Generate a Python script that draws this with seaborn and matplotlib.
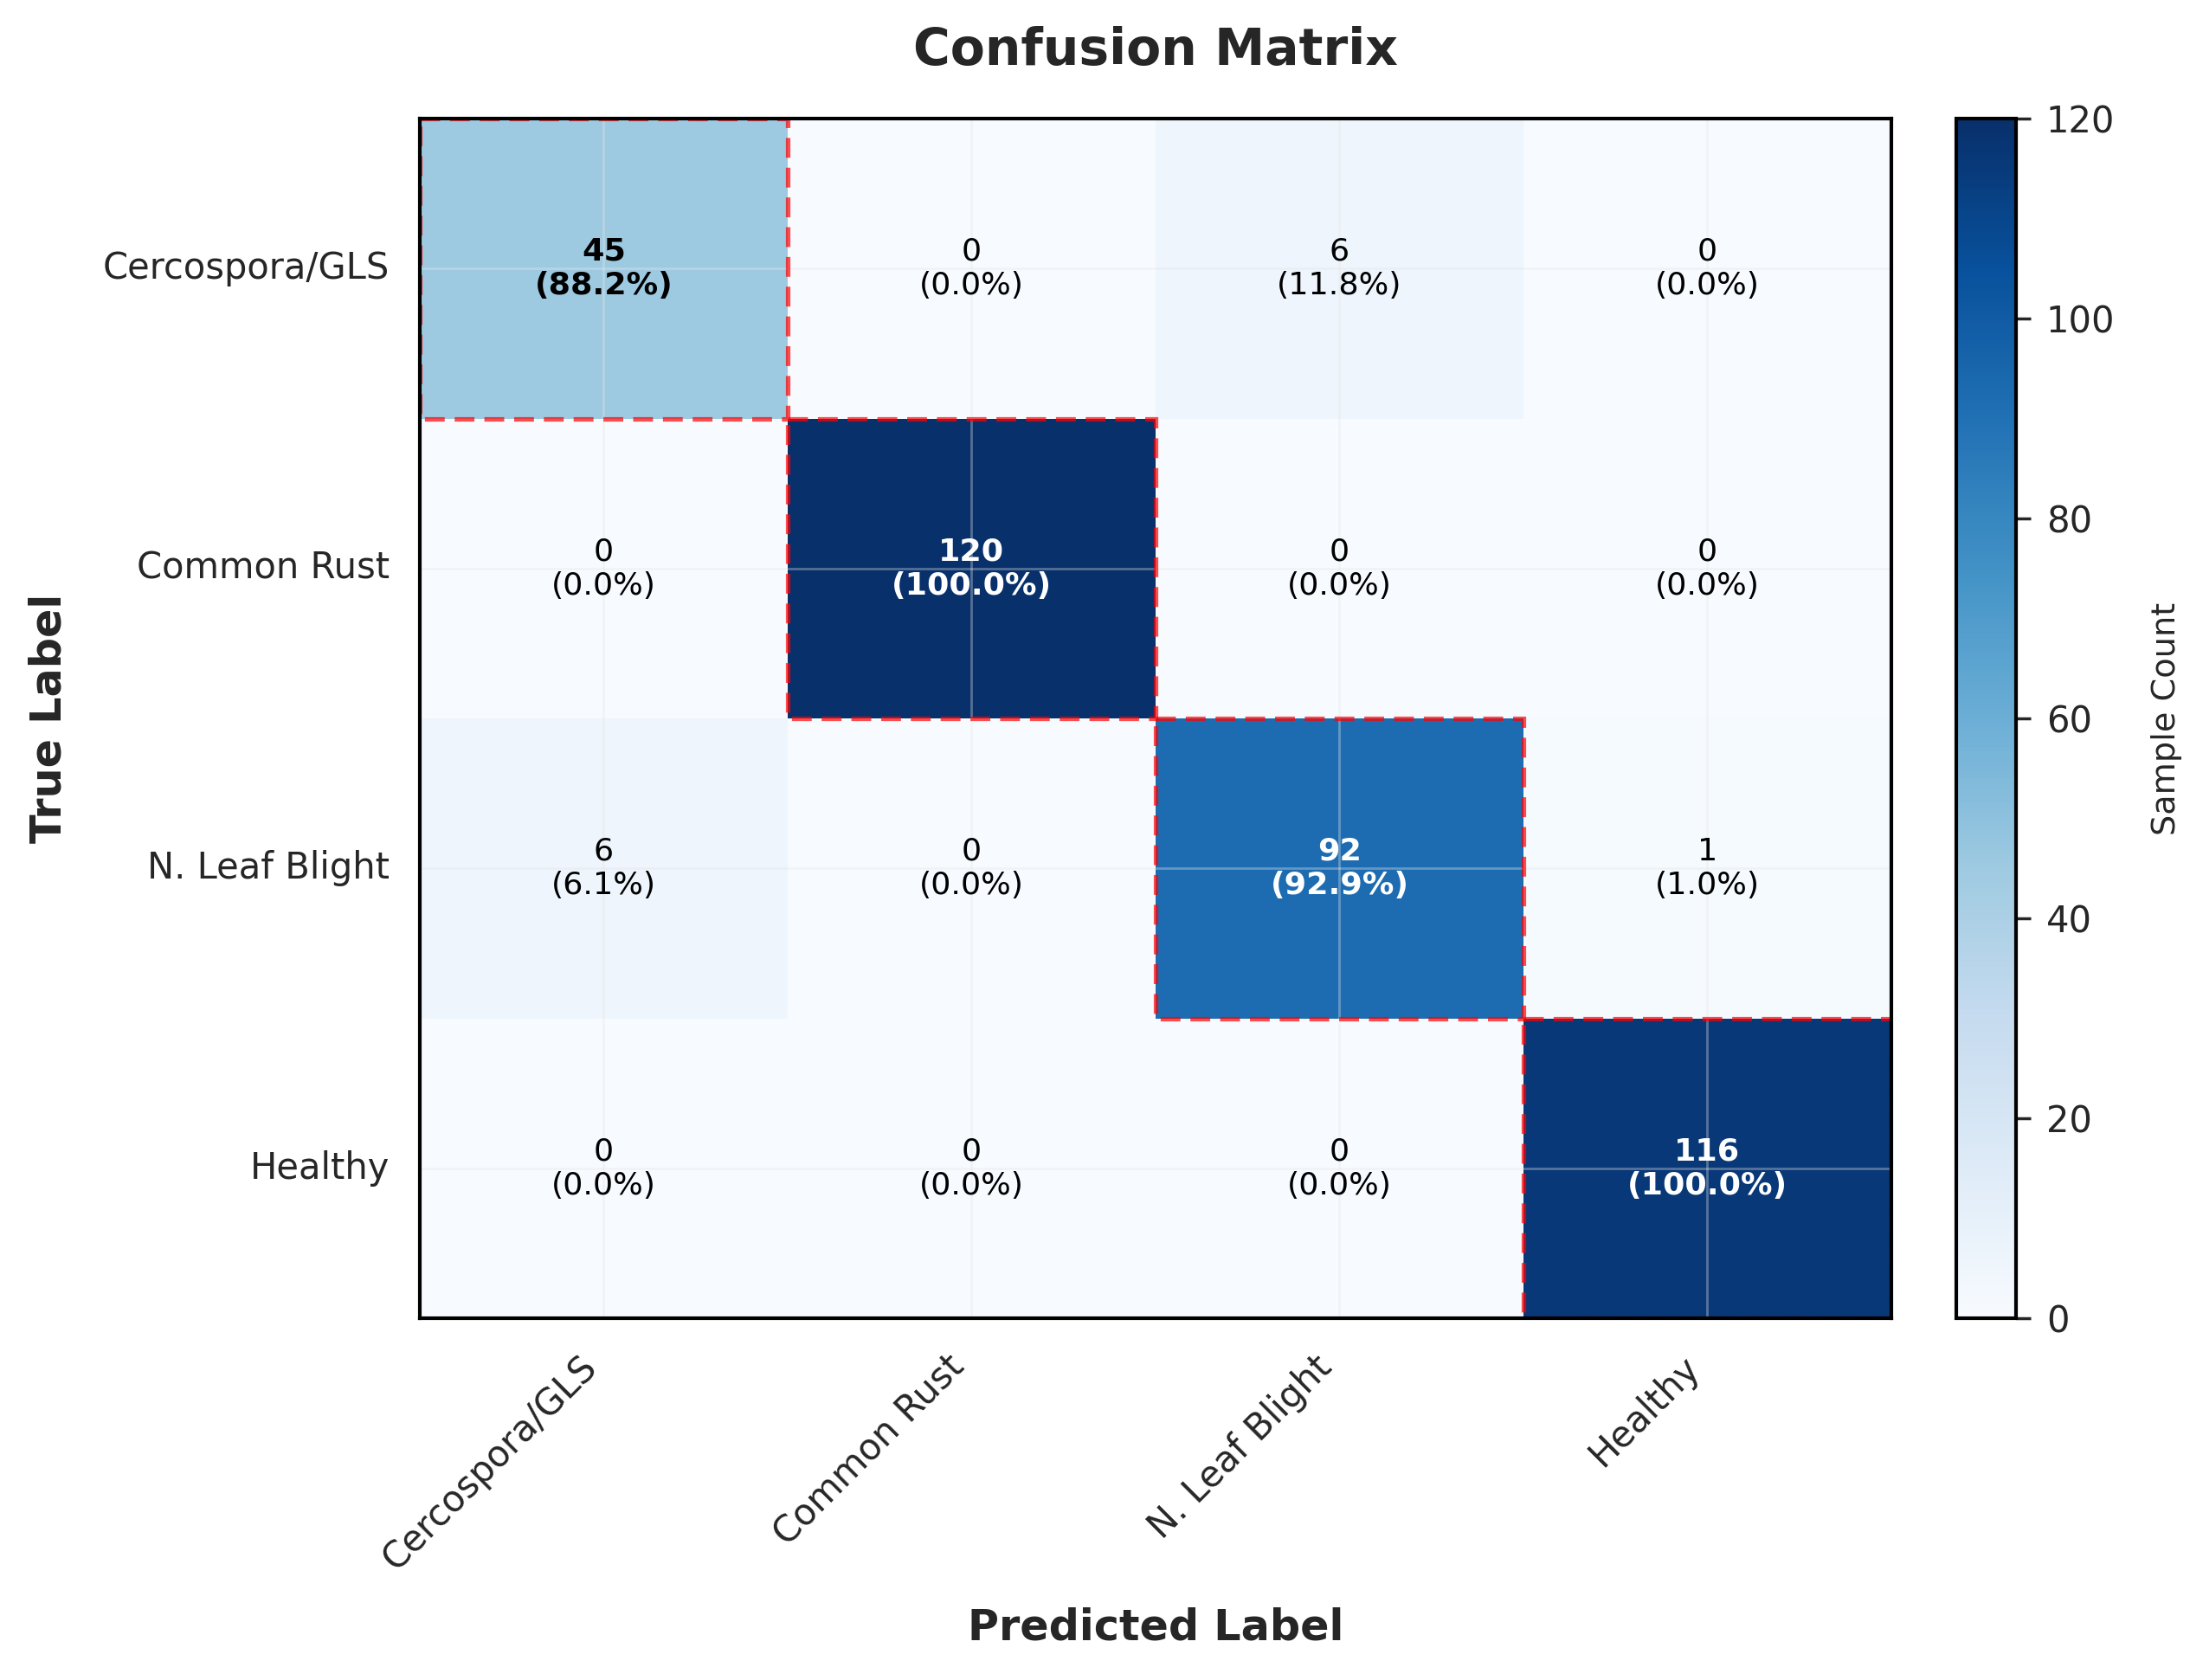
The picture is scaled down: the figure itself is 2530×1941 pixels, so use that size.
import numpy as np
import pandas as pd
import seaborn as sns
import matplotlib.pyplot as plt
from matplotlib.patches import Rectangle

# Class names and confusion matrix counts (rows = true, cols = predicted)
classes = ['Cercospora/GLS', 'Common Rust', 'N. Leaf Blight', 'Healthy']
row_cercospora = [45, 0, 6, 0]
row_rust = [0, 120, 0, 0]
row_blight = [6, 0, 92, 1]
row_healthy = [0, 0, 0, 116]

cm = pd.DataFrame([row_cercospora, row_rust, row_blight, row_healthy],
                  index=classes, columns=classes)
pct = cm.div(cm.sum(axis=1), axis=0) * 100

labels = np.array([[f"{cm.iloc[i, j]}\n({pct.iloc[i, j]:.1f}%)"
                    for j in range(len(classes))] for i in range(len(classes))])

sns.set_style('white')
plt.rcParams['font.family'] = ['DejaVu Sans']

fig = plt.figure(figsize=(10.12, 7.764), dpi=250)
ax = fig.add_axes([0.1917, 0.2153, 0.6719, 0.7141])
cax = fig.add_axes([0.8933, 0.2153, 0.0273, 0.7141])

sns.heatmap(cm, annot=labels, fmt='', cmap='Blues', vmin=0, vmax=120,
            ax=ax, cbar_ax=cax, annot_kws={'fontsize': 10.5, 'color': 'black'},
            cbar_kws={'label': 'Sample Count'})

# Style the annotations: diagonal bold, white text on dark cells
n = len(classes)
for k, txt in enumerate(ax.texts):
    i, j = divmod(k, n)
    val = cm.iloc[i, j]
    txt.set_color('white' if val > 60 else 'black')
    if i == j:
        txt.set_fontweight('bold')

# Highlight the diagonal with dashed red boxes
for i in range(n):
    ax.add_patch(Rectangle((i, i), 1, 1, fill=False, edgecolor='red',
                           lw=1.5, ls=(0, (4.4, 2.2)), alpha=0.7, zorder=5))

# Faint grid through the cell centres
ax.set_axisbelow(False)
ax.grid(True, color='0.9', alpha=0.35, linewidth=0.8)

for sp in ax.spines.values():
    sp.set_visible(True)
    sp.set_color('black')
    sp.set_linewidth(1.2)
    sp.set_zorder(6)

ax.tick_params(length=0, pad=10, labelsize=12, colors='#262626')
plt.setp(ax.get_xticklabels(), rotation=45, ha='right')
plt.setp(ax.get_yticklabels(), rotation=0)

ax.set_title('Confusion Matrix', fontsize=16.8, fontweight='bold', pad=18, color='#262626')
ax.set_xlabel('Predicted Label', fontsize=14.2, fontweight='bold', color='#262626')
ax.set_ylabel('True Label', fontsize=14.2, fontweight='bold', color='#262626')
ax.xaxis.set_label_coords(0.5, -0.2403)
ax.yaxis.set_label_coords(-0.238, 0.5)

cbar = ax.collections[0].colorbar
cbar.outline.set_visible(True)
cbar.outline.set_edgecolor('black')
cbar.outline.set_linewidth(1.2)
cax.tick_params(length=5, width=1, labelsize=12, pad=5, colors='#262626')
cbar.set_ticks([0, 20, 40, 60, 80, 100, 120])
cbar.set_label('Sample Count', fontsize=11, color='#262626', labelpad=12)

fig.savefig('out.png', dpi=250)
